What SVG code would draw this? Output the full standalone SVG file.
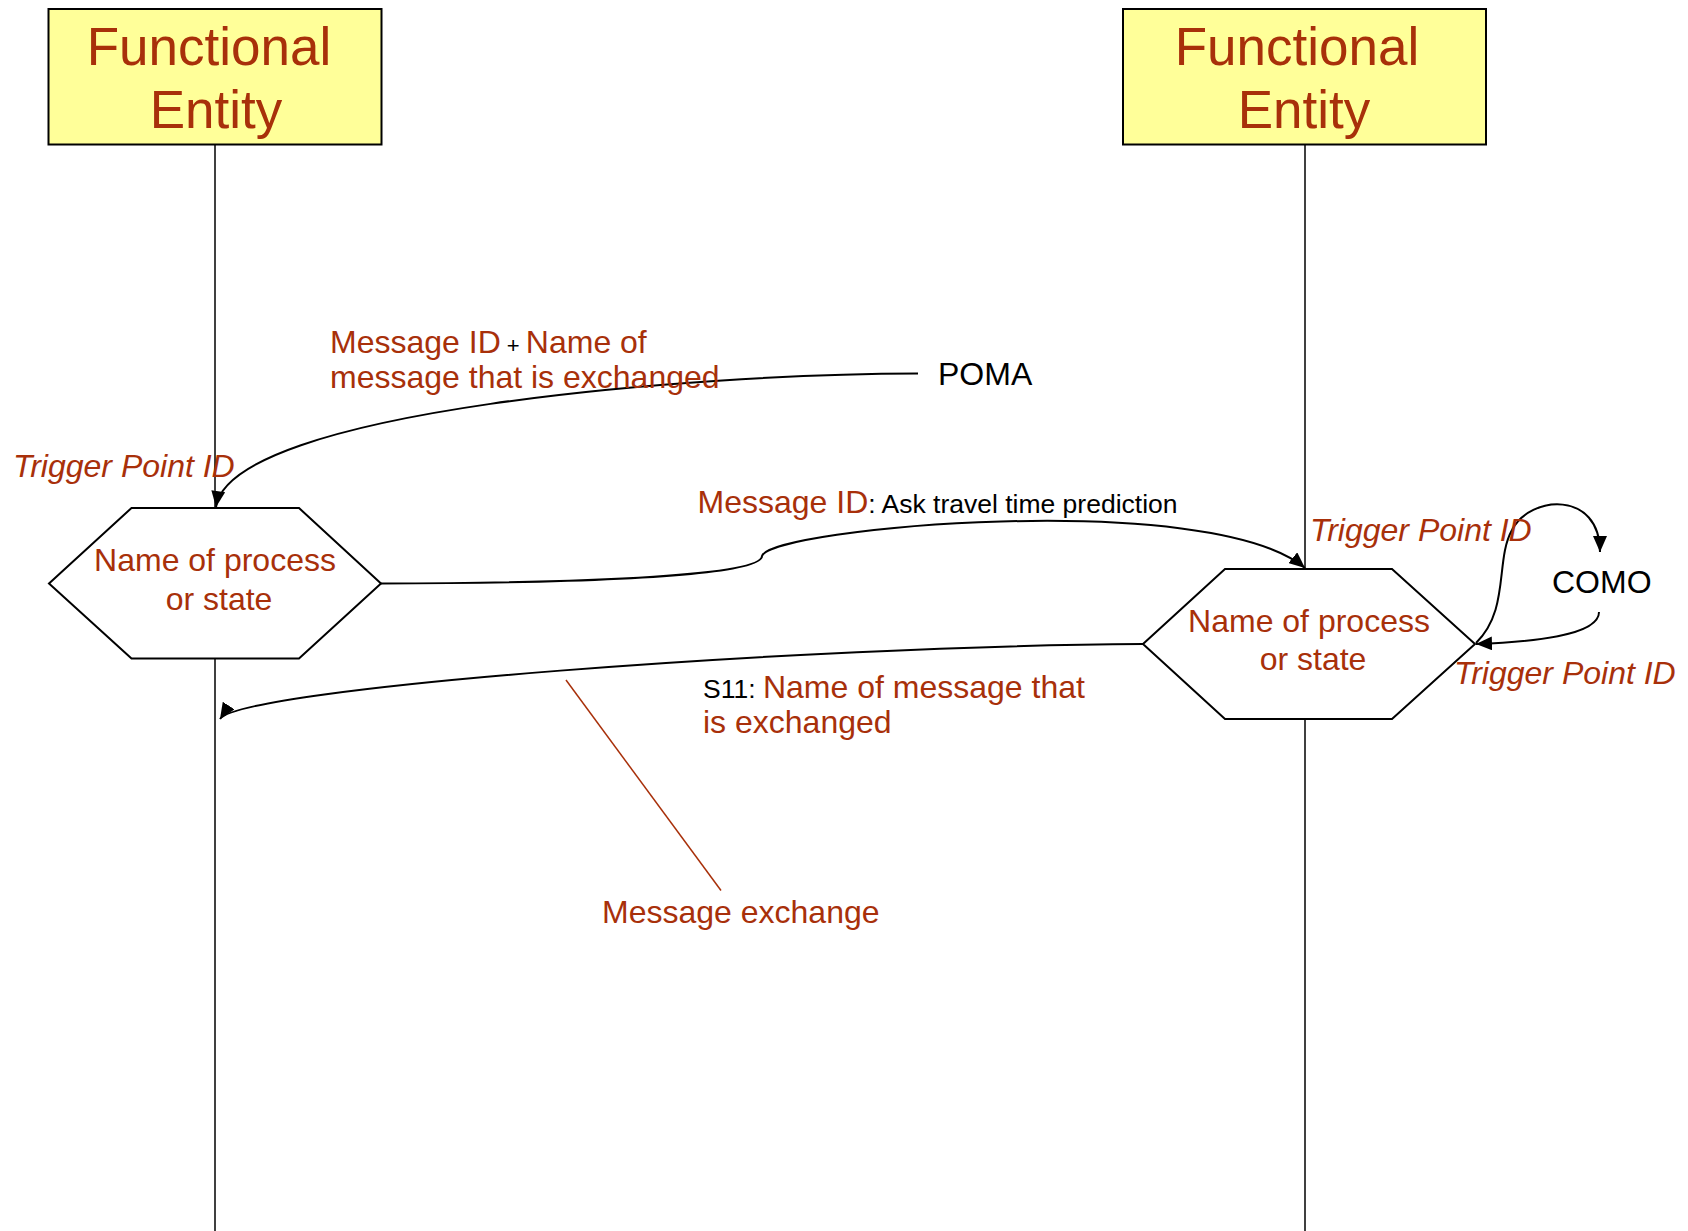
<svg xmlns="http://www.w3.org/2000/svg" width="1688" height="1231" viewBox="0 0 1688 1231">
<style>
text{font-family:"Liberation Sans",Arial,sans-serif}
.red{fill:#A8300A}
.blk{fill:#000}
.ent{font-size:53px;fill:#A8300A;text-anchor:middle}
.lbl{font-size:32px}
.it{font-style:italic;fill:#A8300A;font-size:32px}
.box{fill:#FFFF99;stroke:#000;stroke-width:2}
.hex{fill:#fff;stroke:#000;stroke-width:2}
.life{stroke:#000;stroke-width:1.5;fill:none}
.conn{stroke:#000;stroke-width:2;fill:none;marker-end:url(#arr)}
</style>
<defs>
<marker id="arr" markerUnits="userSpaceOnUse" markerWidth="18" markerHeight="14" refX="16" refY="7" orient="auto">
<path d="M0,0 L16,7 L0,14 z" fill="#000"/>
</marker>
</defs>
<rect width="1688" height="1231" fill="#fff"/>
<g id="lifelines">
<line class="life" x1="215" y1="145" x2="215" y2="1231"/>
<line class="life" x1="1305" y1="145" x2="1305" y2="1231"/>
</g>
<g id="entity-left">
<rect class="box" x="48.5" y="9" width="333" height="135.5"/>
<text class="ent" x="209" y="65">Functional</text>
<text class="ent" x="216" y="128">Entity</text>
</g>
<g id="entity-right">
<rect class="box" x="1123" y="9" width="363" height="135.5"/>
<text class="ent" x="1297" y="65">Functional</text>
<text class="ent" x="1304" y="128">Entity</text>
</g>
<g id="process-left">
<polygon class="hex" points="49,583.5 131.5,508 299,508 381,583.5 299,658.5 131.5,658.5"/>
<text class="lbl red" x="215" y="571" text-anchor="middle">Name of process</text>
<text class="lbl red" x="219" y="610" text-anchor="middle">or state</text>
</g>
<g id="process-right">
<polygon class="hex" points="1143,644 1225,569 1392,569 1475,644 1392,719 1225,719"/>
<text class="lbl red" x="1309" y="632" text-anchor="middle">Name of process</text>
<text class="lbl red" x="1313" y="670" text-anchor="middle">or state</text>
</g>
<g id="connectors">
<path class="conn" d="M918,373.5 C700,373.5 230,410 216,507"/>
<path class="conn" d="M381,583.5 C600,583 762,575 762,556 C770,528 1210,488 1305,568"/>
<path class="conn" d="M1143,644 C800,646 240,688 220,719"/>
<path class="conn" d="M1476,643 C1510,610 1495,560 1512,530 C1530,495 1600,490 1600,552"/>
<path class="conn" d="M1599,612 C1599,636 1530,642 1476,644"/>
<line x1="566" y1="680" x2="721" y2="890.5" stroke="#A8300A" stroke-width="1.5"/>
</g>
<g id="labels">
<text class="lbl" x="330" y="353"><tspan class="red">Message ID</tspan><tspan class="blk" font-size="22"> + </tspan><tspan class="red">Name of</tspan></text>
<text class="lbl red" x="330" y="388">message that is exchanged</text>
<text class="lbl blk" x="938" y="385">POMA</text>
<text class="it" x="13" y="477">Trigger Point ID</text>
<text class="lbl" x="697.5" y="513"><tspan class="red">Message ID</tspan><tspan class="blk" font-size="26.5">: Ask travel time prediction</tspan></text>
<text class="it" x="1310" y="541">Trigger Point ID</text>
<text class="lbl blk" x="1552" y="593">COMO</text>
<text class="it" x="1454" y="684">Trigger Point ID</text>
<text class="lbl" x="703" y="698"><tspan class="blk" font-size="26.5">S11: </tspan><tspan class="red">Name of message that</tspan></text>
<text class="lbl red" x="703" y="733">is exchanged</text>
<text class="lbl red" x="602" y="923">Message exchange</text>
</g>
</svg>
